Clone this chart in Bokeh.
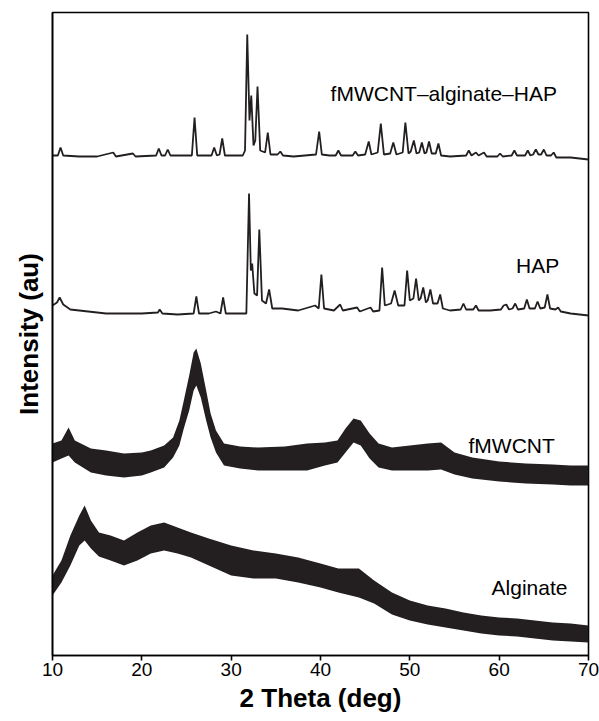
from bokeh.plotting import figure
from bokeh.models import Range1d, FixedTicker
from bokeh.core.properties import value
from bokeh.embed import file_html
from bokeh.resources import INLINE

# ---- data (2 theta in degrees, intensity in arbitrary units, stacked) ----
comp_x = [10.0, 10.6, 10.9, 11.2, 13, 15, 16.8, 17.1, 19.0, 19.3, 21.6, 21.9, 22.2, 22.6, 22.9, 23.2,
          25.6, 25.9, 26.2, 27.8, 28.1, 28.4, 28.7, 29.0, 29.3, 31.3, 31.55, 31.8, 32.05, 32.25, 32.5,
          32.7, 32.95, 33.25, 33.8, 34.1, 34.4, 35.2, 35.5, 35.8, 37, 39.5, 39.85, 40.15, 41, 41.7,
          42.0, 42.3, 43.6, 43.9, 44.2, 45.0, 45.4, 45.7, 46.4, 46.75, 47.1, 47.8, 48.15, 48.5, 49.2,
          49.5, 49.85, 50.1, 50.45, 50.75, 51.05, 51.35, 51.65, 51.85, 52.15, 52.45, 52.9, 53.2, 53.5,
          54.5, 56.3, 56.6, 56.9, 57.4, 57.7, 58.3, 58.6, 59.8, 60.1, 60.4, 61.4, 61.7, 62.0, 62.9,
          63.2, 63.5, 63.8, 64.1, 64.4, 64.7, 65.0, 65.3, 65.8, 66.1, 66.4, 68, 70]
comp_y = [500, 500, 508, 500, 499, 499, 503, 499, 502, 499, 500, 507, 500, 500, 506, 500,
          500, 538, 500, 500, 508, 500, 501, 517, 500, 500, 505, 621, 535, 560, 510,
          515, 569, 505, 503, 523, 501, 501, 504, 500, 499, 501, 524, 501, 500, 500,
          505, 500, 500, 504, 500, 501, 514, 501, 503, 532, 501, 502, 513, 501, 503,
          533, 502, 504, 515, 502, 503, 513, 502, 503, 514, 502, 502, 512, 500,
          499, 500, 505, 500, 503, 500, 503, 499, 499, 502, 499, 500, 505, 500, 500,
          505, 500, 501, 506, 501, 501, 506, 500, 500, 503, 498, 498, 496]

hap_x = [10.0, 10.5, 10.8, 11.2, 12, 14, 16, 18, 20, 21.8, 22.0, 22.3, 24, 25.8, 26.1, 26.4, 27.5,
         28.3, 28.8, 29.1, 29.4, 31.7, 32.0, 32.2, 32.35, 32.6, 32.9, 33.15, 33.45, 33.9, 34.25,
         34.6, 35.7, 37.5, 39.4, 39.8, 40.1, 40.4, 41.5, 42.2, 42.5, 44.1, 44.4, 45.6, 45.9, 46.6,
         46.9, 47.2, 47.9, 48.3, 48.7, 49.4, 49.7, 50.0, 50.4, 50.7, 51.0, 51.2, 51.5, 51.8, 52.0,
         52.3, 52.6, 53.1, 53.4, 53.7, 54.5, 55.7, 56.0, 56.3, 57.1, 57.4, 57.7, 59, 60.2, 60.5,
         60.8, 61.1, 61.5, 61.8, 62.1, 62.8, 63.1, 63.4, 64.0, 64.3, 64.6, 65.1, 65.4, 65.7, 66.3,
         66.6, 66.9, 68, 70]
hap_y = [350, 353, 358, 351, 346, 344, 342, 342, 342, 343, 346, 342, 341, 342, 359, 342, 342,
         344, 342, 358, 342, 342, 462, 385, 392, 362, 360, 426, 355, 352, 366,
         347, 347, 345, 350, 347, 381, 347, 345, 351, 345, 348, 344, 348, 344, 345,
         388, 350, 352, 365, 350, 350, 385, 355, 357, 377, 355, 357, 368, 353, 355,
         366, 352, 352, 361, 347, 345, 346, 352, 346, 346, 350, 345, 345, 346, 350,
         351, 346, 347, 352, 346, 347, 356, 347, 347, 354, 347, 348, 361, 347, 346,
         348, 344, 342, 340]

cnt_x = [10.0, 11.0, 11.8, 12.5, 14.3, 16, 18, 20, 21, 22.5, 23.5, 24.2, 24.7, 25.3, 25.8, 26.1,
         26.6, 27.2, 27.7, 28.3, 29.2, 31, 33, 36, 38.5, 40.5, 41.9, 42.8, 43.7, 44.5, 45.5, 46.5,
         48, 50, 52, 53.5, 55, 57, 60, 63, 66, 68, 70]
cnt_lo = [193, 197, 200, 193, 183, 180, 178, 180, 183, 188, 198, 210, 227, 245, 265, 270,
          258, 235, 218, 203, 190, 187, 185, 185, 185, 190, 193, 203, 213, 210, 197, 188,
          185, 185, 185, 186, 181, 177, 174, 172, 171, 170, 170]
cnt_hi = [212, 215, 228, 215, 207, 205, 202, 203, 205, 210, 218, 235, 255, 280, 303, 307,
          292, 265, 242, 225, 212, 209, 208, 209, 212, 213, 215, 227, 237, 235, 222, 212,
          208, 210, 212, 213, 203, 198, 194, 192, 191, 190, 190]

alg_x = [10.0, 11, 12, 13, 13.6, 14.3, 15.2, 16.5, 18, 19.5, 21, 22.5, 24, 25.5, 27.5, 30, 32.5,
         35, 37.5, 40, 42, 44.3, 46, 48, 50, 52, 54, 56, 58, 60, 62, 64, 66, 68, 70]
alg_lo = [60, 73, 90, 110, 115, 107, 99, 95, 90, 95, 102, 105, 102, 98, 90, 80, 77,
          77, 73, 68, 63, 58, 52, 41, 35, 31, 28, 25, 22, 20, 19, 17, 15, 14, 13]
alg_hi = [80, 95, 120, 140, 150, 135, 123, 120, 115, 123, 130, 133, 128, 123, 117, 110, 105,
          102, 98, 92, 87, 87, 75, 63, 55, 50, 47, 43, 40, 38, 37, 35, 33, 32, 30]

label_text = ["fMWCNT\u2013alginate\u2013HAP", "HAP", "fMWCNT", "Alginate"]
label_x = [53.8, 64.3, 61.4, 63.4]
label_y = [562, 390, 210, 68]

INK = "#231f20"
FONT = "Liberation Sans"

p = figure(width=599, height=721, output_backend="svg", toolbar_location=None,
           x_range=Range1d(10, 70), y_range=Range1d(0, 643),
           min_border_left=52, min_border_right=11, min_border_top=12, min_border_bottom=66)

p.grid.visible = False
p.outline_line_color = "black"
p.outline_line_width = 1.6
p.background_fill_color = "white"
p.border_fill_color = "white"

p.line(comp_x, comp_y, line_color=INK, line_width=1.8)
p.line(hap_x, hap_y, line_color=INK, line_width=1.8)
p.varea(x=cnt_x, y1=cnt_lo, y2=cnt_hi, fill_color=INK)
p.varea(x=alg_x, y1=alg_lo, y2=alg_hi, fill_color=INK)

p.text(x=label_x, y=label_y, text=label_text, text_font=value(FONT), text_font_size="21px",
       text_color="black", text_align="center", text_baseline="middle")

xa = p.xaxis[0]
xa.ticker = FixedTicker(ticks=[10, 20, 30, 40, 50, 60, 70])
xa.minor_tick_line_color = None
xa.major_tick_in = 0
xa.major_tick_out = 5
xa.major_tick_line_width = 1.6
xa.axis_line_width = 1.6
xa.major_label_text_font = FONT
xa.major_label_text_font_size = "19px"
xa.major_label_text_color = "black"
xa.major_label_standoff = 2
xa.axis_label = "2 Theta (deg)"
xa.axis_label_text_font = FONT
xa.axis_label_text_font_style = "bold"
xa.axis_label_text_font_size = "26px"
xa.axis_label_text_color = "black"
xa.axis_label_standoff = 4

ya = p.yaxis[0]
ya.ticker = FixedTicker(ticks=[])
ya.major_tick_in = 0
ya.major_tick_out = 0
ya.minor_tick_line_color = None
ya.major_label_text_font_size = "0px"
ya.axis_line_width = 1.6
ya.axis_label = "Intensity (au)"
ya.axis_label_text_font = FONT
ya.axis_label_text_font_style = "bold"
ya.axis_label_text_font_size = "26px"
ya.axis_label_text_color = "black"
ya.axis_label_standoff = 9

open("out.html", "w").write(file_html(p, INLINE))
